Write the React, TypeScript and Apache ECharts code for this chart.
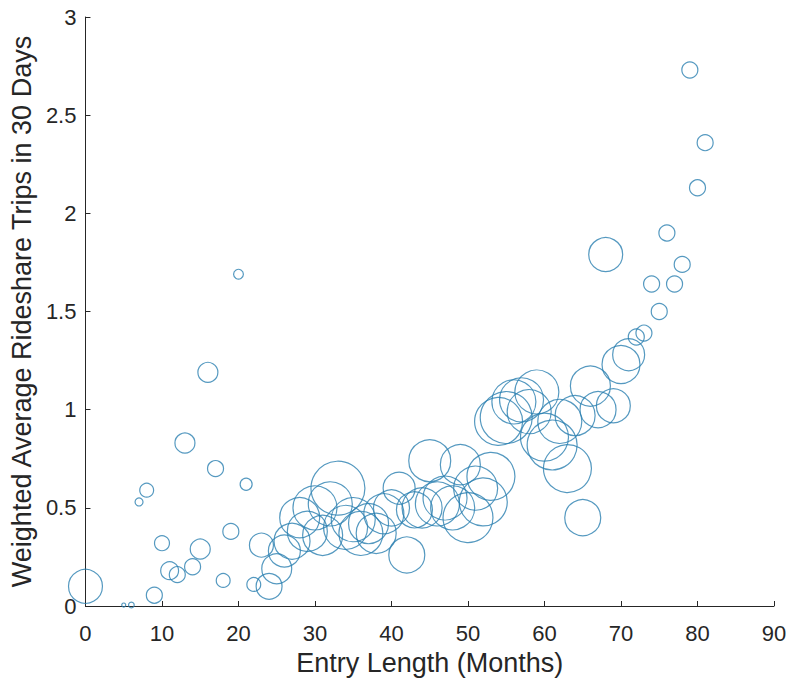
import React, { useEffect, useRef } from "react";
import * as echarts from "echarts";

const months = [0, 5, 6, 7, 8, 9, 10, 11, 12, 13, 14, 15, 16, 17, 18, 19, 20, 21, 22, 23, 24, 25, 26, 27, 28, 29, 30, 31, 32, 33, 34, 35, 36, 37, 38, 39, 40, 41, 42, 43, 44, 45, 46, 47, 48, 49, 50, 51, 52, 53, 54, 55, 56, 57, 58, 59, 60, 61, 62, 63, 64, 65, 66, 67, 68, 69, 70, 71, 72, 73, 74, 75, 76, 77, 78, 79, 80, 81];

const avgTrips = [0.10, 0.005, 0.005, 0.53, 0.59, 0.055, 0.32, 0.18, 0.16, 0.83, 0.20, 0.29, 1.19, 0.70, 0.13, 0.38, 1.69, 0.62, 0.11, 0.31, 0.10, 0.19, 0.28, 0.33, 0.45, 0.38, 0.50, 0.36, 0.52, 0.60, 0.40, 0.44, 0.37, 0.42, 0.37, 0.47, 0.50, 0.60, 0.26, 0.49, 0.50, 0.74, 0.52, 0.55, 0.50, 0.72, 0.45, 0.60, 0.53, 0.66, 0.94, 0.96, 1.04, 1.05, 0.99, 1.09, 0.86, 0.82, 0.94, 0.70, 0.97, 0.45, 1.12, 1.00, 1.79, 1.02, 1.23, 1.28, 1.37, 1.39, 1.64, 1.50, 1.90, 1.64, 1.74, 2.73, 2.13, 2.36];

const weights = [72, 1, 2, 4, 12, 16, 14, 20, 16, 25, 16, 25, 25, 16, 12, 16, 6, 9, 12, 36, 42, 56, 64, 81, 100, 100, 121, 100, 121, 182, 121, 121, 121, 100, 100, 100, 81, 64, 81, 81, 100, 110, 121, 121, 121, 100, 156, 121, 144, 144, 144, 169, 121, 121, 121, 121, 144, 156, 121, 144, 100, 81, 100, 81, 72, 72, 90, 64, 16, 16, 16, 16, 16, 16, 16, 16, 16, 16];

const xTicks = [0, 10, 20, 30, 40, 50, 60, 70, 80, 90];
const yTicks = [0, 0.5, 1, 1.5, 2, 2.5, 3];

export default function App() {
  const ref = useRef<HTMLDivElement>(null);
  useEffect(() => {
    if (!ref.current) return;
    const chart = echarts.init(ref.current, null, { renderer: "svg" });
    const data = months.map((m, i) => [m, avgTrips[i], weights[i]]);
    const axisColor = "#262626";
    const font = "Liberation Sans";
    chart.setOption({
      animation: false,
      backgroundColor: "#ffffff",
      grid: { left: 84, right: 16, top: 17, bottom: 75, containLabel: false },
      xAxis: {
        type: "value",
        min: xTicks[0],
        max: xTicks[xTicks.length - 1],
        interval: 10,
        name: "Entry Length (Months)",
        nameLocation: "middle",
        nameGap: 43,
        nameTextStyle: { color: axisColor, fontSize: 27, fontFamily: font },
        axisLine: { show: true, lineStyle: { color: axisColor, width: 1 } },
        axisTick: { show: true, inside: true, length: 5, lineStyle: { color: axisColor } },
        axisLabel: { color: axisColor, fontSize: 22, fontFamily: font, margin: 16 },
        splitLine: { show: false },
      },
      yAxis: {
        type: "value",
        min: yTicks[0],
        max: yTicks[yTicks.length - 1],
        interval: 0.5,
        name: "Weighted Average Rideshare Trips in 30 Days",
        nameLocation: "middle",
        nameGap: 41,
        nameRotate: 90,
        nameTextStyle: { color: axisColor, fontSize: 27, fontFamily: font },
        axisLine: { show: true, lineStyle: { color: axisColor, width: 1 } },
        axisTick: { show: true, inside: true, length: 5, lineStyle: { color: axisColor } },
        axisLabel: { color: axisColor, fontSize: 22, fontFamily: font, margin: 9 },
        splitLine: { show: false },
      },
      series: [
        {
          type: "scatter",
          data,
          symbol: "circle",
          symbolSize: (v: number[]) => Math.sqrt(v[2]) * 4,
          itemStyle: {
            color: "rgba(0,0,0,0)",
            borderColor: "#2a7fb0",
            borderWidth: 1.2,
          },
          emphasis: { disabled: true },
        },
      ],
    });
    return () => chart.dispose();
  }, []);
  return (
    <div
      ref={ref}
      style={{ position: "fixed", left: 0, top: 0, width: 790, height: 681 }}
    />
  );
}
